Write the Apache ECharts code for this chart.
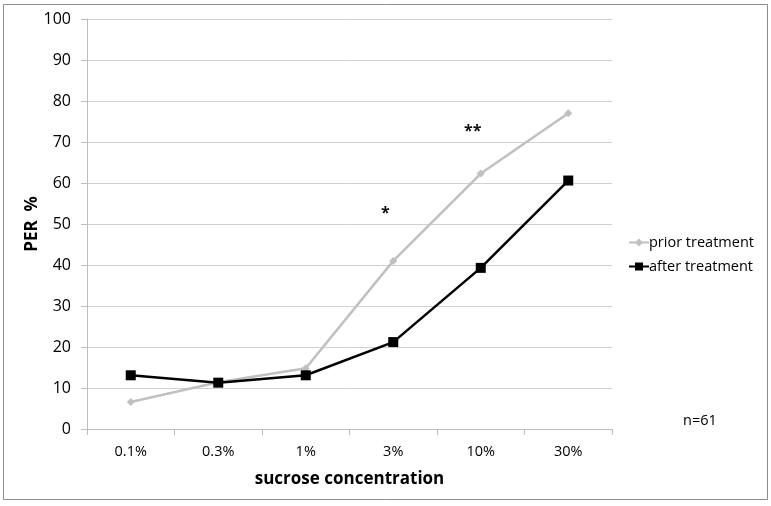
<!DOCTYPE html>
<html><head><meta charset="utf-8">
<script src="https://cdn.jsdelivr.net/npm/echarts@6/dist/echarts.min.js"></script>
<style>html,body{margin:0;padding:0;background:#fff}#c{width:771px;height:506px}</style>
</head><body><div id="c"></div>
<script>
const categories = ['0.1%','0.3%','1%','3%','10%','30%'];
const priorTreatment = [6.6, 11.4, 14.8, 41.0, 62.3, 77.0];
const afterTreatment = [13.1, 11.3, 13.1, 21.2, 39.3, 60.6];
const yTicks = {min: 0, max: 100, interval: 10};
const annotations = [{text: '*', cat: '3%', value: 53}, {text: '**', cat: '10%', value: 73}];
const FONT = '"Open Sans", "Noto Sans", sans-serif';

const chart = echarts.init(document.getElementById('c'), null, {renderer: 'canvas'});
const option = {
  animation: false,
  backgroundColor: '#fff',
  grid: {left: 87, right: 159, top: 19, bottom: 77},
  legend: {
    orient: 'vertical', left: 623, top: 230, itemGap: 9,
    itemWidth: 20, itemHeight: 10,
    textStyle: {fontFamily: FONT, fontSize: 14.5, color: '#000', padding: [0,0,0,-5]},
    data: ['prior treatment', 'after treatment']
  },
  xAxis: {
    type: 'category', data: categories, boundaryGap: true,
    name: 'sucrose concentration', nameLocation: 'middle', nameGap: 42,
    nameTextStyle: {fontFamily: FONT, fontSize: 17, fontWeight: 'bold', color: '#000'},
    axisLine: {lineStyle: {color: '#bdbdbd', width: 1}},
    axisTick: {show: true, length: 6, lineStyle: {color: '#bdbdbd'}},
    axisLabel: {fontFamily: FONT, fontSize: 14.5, color: '#000', margin: 15},
    splitLine: {show: false}
  },
  yAxis: {
    type: 'value', min: yTicks.min, max: yTicks.max, interval: yTicks.interval,
    name: 'PER  %', nameLocation: 'middle', nameGap: 46, nameRotate: 90, nameMoveOverlap: false,
    nameTextStyle: {fontFamily: FONT, fontSize: 17, fontWeight: 'bold', color: '#000'},
    axisLine: {show: true, lineStyle: {color: '#bdbdbd', width: 1}},
    axisTick: {show: true, length: 6, lineStyle: {color: '#bdbdbd'}},
    axisLabel: {fontFamily: FONT, fontSize: 16, color: '#000', margin: 16},
    splitLine: {lineStyle: {color: '#d0d0d0', width: 1}}
  },
  series: [
    {
      name: 'prior treatment', type: 'line', data: priorTreatment,
      symbol: 'diamond', symbolSize: 8,
      lineStyle: {color: '#c0c0c0', width: 2.5},
      itemStyle: {color: '#c0c0c0'},
      z: 2,
      markPoint: {
        symbol: 'circle', symbolSize: 1,
        itemStyle: {color: 'rgba(0,0,0,0)'},
        label: {show: true, position: 'inside', offset: [-8, 2], fontFamily: FONT, fontSize: 16, fontWeight: 'bold', color: '#111', formatter: p => p.name},
        data: annotations.map(a => ({name: a.text, coord: [a.cat, a.value]}))
      }
    },
    {
      name: 'after treatment', type: 'line', data: afterTreatment,
      symbol: 'rect', symbolSize: 10,
      lineStyle: {color: '#000', width: 2.5},
      itemStyle: {color: '#000'},
      z: 3
    }
  ],
  graphic: [
    {type: 'rect', shape: {x: 3.5, y: 4.5, width: 764, height: 495}, style: {fill: 'none', stroke: '#8c8c8c', lineWidth: 1}, silent: true},
    {type: 'text', left: 683, top: 413, style: {text: 'n=61', font: '14.5px "Open Sans", "Noto Sans", sans-serif', fill: '#000'}}
  ]
};
chart.setOption(option);
</script></body></html>
